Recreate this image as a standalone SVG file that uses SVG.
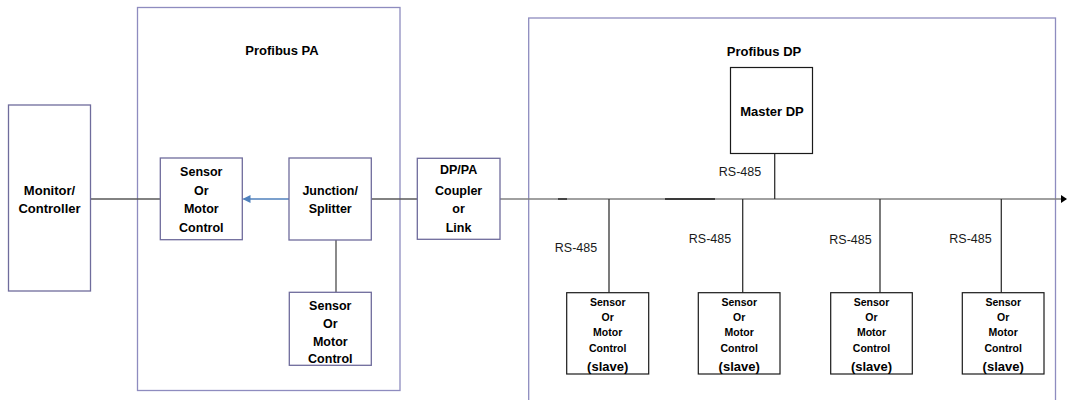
<svg xmlns="http://www.w3.org/2000/svg" width="1068" height="400" viewBox="0 0 1068 400">
<style>
.bg{fill:#ffffff}
.cont{fill:none;stroke:#8e8cbf;stroke-width:1.3}
.node{fill:#ffffff;stroke:#6f6c9c;stroke-width:1.3}
.knode{fill:#ffffff;stroke:#1a1a1a;stroke-width:1.2}
.t{font-family:"Liberation Sans",Arial,sans-serif;font-weight:bold;fill:#000;text-anchor:middle}
.t13{font-size:13px}
.t12{font-size:12.5px}
.ts{font-size:10.5px}
.tsl{font-size:13px}
.r{font-family:"Liberation Sans",Arial,sans-serif;font-size:12.5px;fill:#1a1a1a;text-anchor:middle}
.bus{stroke:#808080;stroke-width:1.6;fill:none}
.wire{stroke:#595959;stroke-width:1.4;fill:none}
.drop{stroke:#333333;stroke-width:1.3;fill:none}
.dark{stroke:#3a3a3a;stroke-width:1.8;fill:none}
</style>
<defs>
<marker id="blue" markerWidth="8" markerHeight="8" refX="7" refY="4" orient="auto" markerUnits="userSpaceOnUse">
<path d="M0,0 L8,4 L0,8 Z" fill="#4f81bd"/>
</marker>
<marker id="black" markerWidth="6" markerHeight="8" refX="5" refY="4" orient="auto" markerUnits="userSpaceOnUse">
<path d="M0,0 L6,4 L0,8 Z" fill="#000"/>
</marker>
</defs>
<rect class="bg" x="0" y="0" width="1068" height="400"/>

<g id="profibus-pa">
<rect class="cont" x="137.5" y="7.5" width="262.5" height="383"/>
<text class="t t13" x="282" y="55">Profibus PA</text>
</g>
<g id="profibus-dp">
<rect class="cont" x="528.7" y="18" width="526.8" height="400"/>
<text class="t t13" x="764" y="56">Profibus DP</text>
</g>

<g id="connectors">
<line class="wire" x1="90.5" y1="199" x2="160.3" y2="199"/>
<line x1="289" y1="199" x2="243.5" y2="199" stroke="#4f81bd" stroke-width="1.6" marker-end="url(#blue)"/>
<line class="wire" x1="371.3" y1="199" x2="417.3" y2="199"/>
<line class="wire" x1="336" y1="240" x2="336" y2="292.3"/>
<line class="bus" x1="500" y1="199" x2="1066" y2="199" marker-end="url(#black)"/>
<line class="dark" x1="558" y1="199" x2="567" y2="199"/>
<line class="dark" x1="665" y1="199" x2="715" y2="199"/>
<line class="drop" x1="774.7" y1="153.5" x2="774.7" y2="199"/>
<line class="drop" x1="609" y1="199" x2="609" y2="292.7"/>
<line class="drop" x1="742.7" y1="199" x2="742.7" y2="292.7"/>
<line class="drop" x1="880" y1="199" x2="880" y2="292.7"/>
<line class="drop" x1="1001.3" y1="199" x2="1001.3" y2="292.7"/>
<text class="r" x="740" y="176">RS-485</text>
<text class="r" x="576" y="252">RS-485</text>
<text class="r" x="710" y="243">RS-485</text>
<text class="r" x="850.5" y="244">RS-485</text>
<text class="r" x="970.5" y="243">RS-485</text>
</g>

<g id="monitor">
<rect class="node" x="8.5" y="105" width="82" height="186"/>
<text class="t t13" x="49.5" y="194.5">Monitor/</text>
<text class="t t13" x="49.5" y="212.5">Controller</text>
</g>
<g id="sensor-pa-1">
<rect class="node" x="160.3" y="158" width="82" height="81.7"/>
<text class="t t12" x="201.3" y="175.5">Sensor</text>
<text class="t t12" x="201.3" y="194.5">Or</text>
<text class="t t12" x="201.3" y="212.5">Motor</text>
<text class="t t12" x="201.3" y="231.5">Control</text>
</g>
<g id="junction">
<rect class="node" x="289" y="158" width="82.3" height="82"/>
<text class="t t12" x="330.2" y="194.5">Junction/</text>
<text class="t t12" x="330.2" y="212.5">Splitter</text>
</g>
<g id="sensor-pa-2">
<rect class="node" x="289.3" y="292.3" width="82" height="73"/>
<text class="t t12" x="330.3" y="309.5">Sensor</text>
<text class="t t12" x="330.3" y="327.5">Or</text>
<text class="t t12" x="330.3" y="345.5">Motor</text>
<text class="t t12" x="330.3" y="363">Control</text>
</g>
<g id="coupler">
<rect class="node" x="417.3" y="158.3" width="82.7" height="81"/>
<text class="t t12" x="458.6" y="173.5">DP/PA</text>
<text class="t t12" x="458.6" y="195">Coupler</text>
<text class="t t12" x="458.6" y="212.5">or</text>
<text class="t t12" x="458.6" y="231.5">Link</text>
</g>
<g id="master-dp">
<rect class="knode" x="730.5" y="67.5" width="82" height="86"/>
<text class="t t13" x="772" y="115.5">Master DP</text>
</g>
<g id="slave-1">
<rect class="knode" x="566.7" y="292.7" width="82" height="81.3"/>
<text class="t ts" x="607.7" y="305.5">Sensor</text>
<text class="t ts" x="607.7" y="321">Or</text>
<text class="t ts" x="607.7" y="336">Motor</text>
<text class="t ts" x="607.7" y="352">Control</text>
<text class="t tsl" x="607.7" y="370.5">(slave)</text>
</g>
<g id="slave-2">
<rect class="knode" x="698.3" y="292.7" width="81.7" height="81.3"/>
<text class="t ts" x="739.2" y="305.5">Sensor</text>
<text class="t ts" x="739.2" y="321">Or</text>
<text class="t ts" x="739.2" y="336">Motor</text>
<text class="t ts" x="739.2" y="352">Control</text>
<text class="t tsl" x="739.2" y="370.5">(slave)</text>
</g>
<g id="slave-3">
<rect class="knode" x="830.7" y="292.7" width="81.6" height="81.3"/>
<text class="t ts" x="871.5" y="305.5">Sensor</text>
<text class="t ts" x="871.5" y="321">Or</text>
<text class="t ts" x="871.5" y="336">Motor</text>
<text class="t ts" x="871.5" y="352">Control</text>
<text class="t tsl" x="871.5" y="370.5">(slave)</text>
</g>
<g id="slave-4">
<rect class="knode" x="962.3" y="292.7" width="81.7" height="81.3"/>
<text class="t ts" x="1003.2" y="305.5">Sensor</text>
<text class="t ts" x="1003.2" y="321">Or</text>
<text class="t ts" x="1003.2" y="336">Motor</text>
<text class="t ts" x="1003.2" y="352">Control</text>
<text class="t tsl" x="1003.2" y="370.5">(slave)</text>
</g>
</svg>
